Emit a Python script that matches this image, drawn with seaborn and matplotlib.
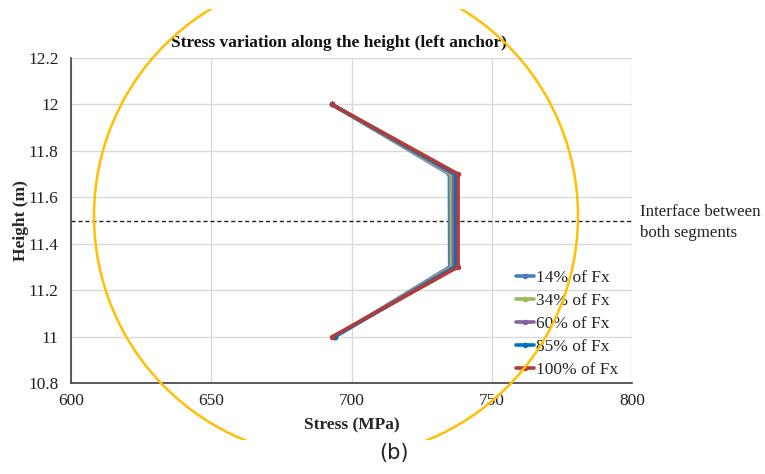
import numpy as np
import pandas as pd
import matplotlib
matplotlib.use("Agg")
import matplotlib.pyplot as plt
import seaborn as sns
from matplotlib.patches import Ellipse, Rectangle
from matplotlib.lines import Line2D

# ---- data ----
heights = [12.0, 11.7, 11.3, 11.0]
s14 = [693.0, 734.9, 735.0, 694.2]
s34 = [693.0, 735.6, 735.7, 694.0]
s60 = [693.0, 736.4, 736.4, 693.8]
s85 = [693.0, 737.2, 737.2, 694.0]
s100 = [693.0, 738.0, 738.0, 693.2]
labels = ["14% of Fx", "34% of Fx", "60% of Fx", "85% of Fx", "100% of Fx"]
colors = ["#4a7ebb", "#9bbb59", "#8064a2", "#0070c0", "#b03c3c"]
interface_y = 11.5
xticks = [600, 650, 700, 750, 800]
yticks = [10.8, 11.0, 11.2, 11.4, 11.6, 11.8, 12.0, 12.2]
ytick_labels = ["10.8", "11", "11.2", "11.4", "11.6", "11.8", "12", "12.2"]

rows = []
for lab, vals in zip(labels, [s14, s34, s60, s85, s100]):
    for i, (x, y) in enumerate(zip(vals, heights)):
        rows.append({"Stress": x, "Height": y, "Series": lab, "order": i})
df = pd.DataFrame(rows)

sns.set_theme(style="white")
plt.rcParams["font.family"] = ["Liberation Serif", "DejaVu Serif"]

W, H = 765, 474
fig = plt.figure(figsize=(W / 100, H / 100), dpi=100)
ax = fig.add_axes([71 / W, 1 - 383 / H, (632 - 71) / W, (383 - 58) / H])

sns.lineplot(data=df, x="Stress", y="Height", hue="Series", hue_order=labels,
             palette=colors, sort=False, estimator=None, units="Series",
             marker="o", markersize=4, markeredgewidth=0, linewidth=2.6,
             ax=ax, legend=False)

ax.set_xlim(600, 800)
ax.set_ylim(10.8, 12.2)
ax.set_xticks(xticks)
ax.set_yticks(yticks)
ax.set_yticklabels(ytick_labels)
ax.tick_params(axis="x", labelsize=12.5, length=0, pad=7, colors="#222222")
ax.tick_params(axis="y", labelsize=12.5, length=0, pad=9, colors="#222222")
ax.grid(True, color="#d9d9d9", linewidth=1)
ax.set_axisbelow(True)
for side in ["top", "right"]:
    ax.spines[side].set_visible(False)
for side in ["left", "bottom"]:
    ax.spines[side].set_color("#404040")
    ax.spines[side].set_linewidth(1.2)

ax.axhline(interface_y, color="#222222", linestyle=(0, (3, 2)), linewidth=1, zorder=1)

ax.set_xlabel("Stress (MPa)", fontsize=12.5, fontweight="bold", labelpad=6)
ax.set_ylabel("Height (m)", fontsize=12.5, fontweight="bold", labelpad=-1)
fig.text(339 / W, 1 - 43 / H, "Stress variation along the height (left anchor)",
         fontsize=12.5, fontweight="bold", ha="center", va="center",
         color="#111111")

# legend
handles = [Line2D([0], [0], color=c, lw=2.6, marker="o", markersize=4,
                  markeredgewidth=0) for c in colors]
fig.legend(handles, labels, loc="lower left",
           bbox_to_anchor=(516 / W, 1 - 378 / H),
           frameon=False, fontsize=12.5, handlelength=1.05, handletextpad=0.12,
           labelspacing=0.40, borderaxespad=0, borderpad=0)

fig.text(640 / W, 1 - 212 / H, "Interface between", fontsize=12.2,
         va="center", ha="left", color="#222222")
fig.text(640 / W, 1 - 233 / H, "both segments", fontsize=12.2,
         va="center", ha="left", color="#222222")

fig.text(394 / W, 1 - 453 / H, "(b)", fontsize=15, ha="center", va="center",
         family=["DejaVu Sans"], color="#222222")

# orange annotation circle (pixel space)
cx, cy, r = 336 / W, 1 - 216 / H, 242
circ = Ellipse((cx, cy), 2 * r / W, 2 * r / H, transform=fig.transFigure,
               fill=False, edgecolor="#ffc000", linewidth=1.8, zorder=10)
fig.add_artist(circ)
clip = Rectangle((0, 1 - 440 / H), 1, (440 - 9) / H, transform=fig.transFigure)
circ.set_clip_path(clip)

fig.savefig("out.png", dpi=100, facecolor="white")
